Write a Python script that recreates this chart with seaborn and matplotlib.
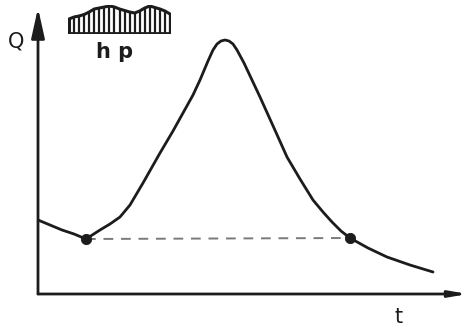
import matplotlib
matplotlib.use("Agg")
import matplotlib.pyplot as plt
import seaborn as sns
import pandas as pd
import numpy as np

# Hydrograph (time, discharge)
t_vals = [0, 12, 24, 36, 48, 62, 72, 82, 92, 105, 122, 135, 145, 155, 162, 170, 175, 179, 183,
          187, 191, 195, 199, 206, 214, 222, 236, 249, 262, 275, 285, 294, 303, 312, 330, 349, 372, 395]
q_vals = [74, 69, 64, 60, 55, 64, 70, 77, 89, 111, 141, 163, 181, 199, 214, 233, 244, 250, 253,
          254, 253, 250, 244, 231, 214, 197, 166, 137, 115, 94, 82, 72, 63, 56, 46, 37, 29, 22]

# Separation points (start / end of direct runoff)
sep_t = [48, 312]
sep_q = [55, 56]

# Hyetograph intensities (hp)
hp_vals = [15, 17, 18, 19.5, 22, 25, 26, 27, 28, 27, 25, 23.5, 22, 21, 23, 26, 28, 26.5, 25, 23, 20]

INK = "#1c1c1c"

sns.set_theme(style="white")
plt.rcParams['font.family'] = ['DejaVu Sans']

fig = plt.figure(figsize=(4.68, 3.29), dpi=100)
fig.patch.set_facecolor("white")
W, H = 468, 329
ax = fig.add_axes([38 / W, 35 / H, (W - 38) / W, 294 / H])
ax.set_xlim(0, 430)
ax.set_ylim(0, 294)
ax.set_axis_off()

df = pd.DataFrame({"t": t_vals, "Q": q_vals})
sns.lineplot(data=df, x="t", y="Q", ax=ax, color=INK, linewidth=2.0, sort=False,
             estimator=None)

# baseflow separation line (dashed)
sep = pd.DataFrame({"t": sep_t, "Q": sep_q})
sns.lineplot(data=sep, x="t", y="Q", ax=ax, color="#7a7a7a", linewidth=1.4,
             dashes=False, linestyle=(0, (5, 4)), estimator=None)
sns.scatterplot(data=sep, x="t", y="Q", ax=ax, color=INK, s=55, zorder=5, edgecolor=INK)

# axes with arrows
ax.annotate("", xy=(0, 286), xytext=(0, 0), annotation_clip=False,
            arrowprops=dict(arrowstyle="-|>,head_length=0.9,head_width=0.2",
                            mutation_scale=20, lw=2.0, color=INK, shrinkA=0, shrinkB=0))
ax.annotate("", xy=(430, 0), xytext=(0, 0), annotation_clip=False,
            arrowprops=dict(arrowstyle="-|>,head_length=0.7,head_width=0.12",
                            mutation_scale=15, lw=2.0, color=INK, shrinkA=0, shrinkB=0))

# hyetograph inset
hax = fig.add_axes([68 / W, (H - 34) / H, 103 / W, 29 / H])
idx = np.arange(len(hp_vals))
hax.set_xlim(-0.2, len(hp_vals) - 1 + 0.2)
hax.set_ylim(0, 29)
hax.set_axis_off()
hdf = pd.DataFrame({"i": idx, "hp": hp_vals})
sns.lineplot(data=hdf, x="i", y="hp", ax=hax, color=INK, linewidth=2.2, estimator=None)
hax.vlines(idx, 0, hp_vals, color=INK, linewidth=1.6)
hax.vlines([0, len(hp_vals) - 1], 0, [hp_vals[0], hp_vals[-1]], color=INK, linewidth=2.2)
hax.hlines(0.6, 0, len(hp_vals) - 1, color=INK, linewidth=2.0)

fig.text(115 / W, 1 - 52 / H, "h p", ha="center", va="center", fontsize=15,
         fontweight="bold", color=INK)
fig.text(16 / W, 1 - 41 / H, "Q", ha="center", va="center", fontsize=15, color=INK)
fig.text(399 / W, 1 - 317 / H, "t", ha="center", va="center", fontsize=15, color=INK)

fig.savefig("out.png", dpi=100, facecolor="white")
